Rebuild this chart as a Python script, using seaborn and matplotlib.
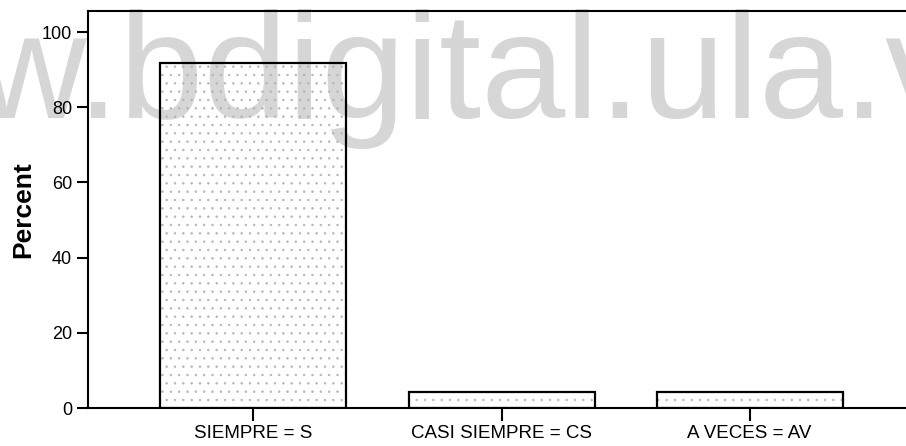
import matplotlib
matplotlib.use("Agg")
import matplotlib.pyplot as plt
import seaborn as sns
import pandas as pd

# Data
categories = ["SIEMPRE = S", "CASI SIEMPRE = CS", "A VECES = AV"]
percents = [91.67, 4.17, 4.17]
yticks = [0, 20, 40, 60, 80, 100]

df = pd.DataFrame({"cat": categories, "pct": percents})

sns.set_style("ticks")
plt.rcParams["font.family"] = ["Liberation Sans", "DejaVu Sans"]
plt.rcParams["hatch.linewidth"] = 0.5
for k in ["text.color", "axes.labelcolor", "xtick.color", "ytick.color"]:
    plt.rcParams[k] = "black"

fig = plt.figure(figsize=(9.06, 4.46), dpi=100)
ax = fig.add_axes([0.0971, 0.0852, 0.913, 0.890])
ax.set_facecolor("none")

# watermark behind the chart
fig.text(-24 / 906, 1 - 118 / 446, "w.bdigital.ula.ve", fontsize=109,
         color="#d6d6d6", ha="left", va="baseline", zorder=-1)

# stippled fill
sns.barplot(data=df, x="cat", y="pct", order=categories, fill=False,
            color="#b4b4b4", hatch="..", linewidth=0, width=0.75,
            errorbar=None, ax=ax)
# black outlines
sns.barplot(data=df, x="cat", y="pct", order=categories, fill=False,
            color="black", linewidth=1.6, width=0.75,
            errorbar=None, ax=ax)

ax.set_xlim(-0.667, 2.667)
ax.set_ylim(0, 105.6)
ax.set_yticks(yticks)
ax.set_xlabel("")
ax.set_ylabel("Percent", fontsize=19, fontweight="bold")
ax.yaxis.set_label_coords(-0.064, 0.5)

ax.tick_params(axis="y", length=8, width=1.5, pad=3.5, labelsize=13)
ax.tick_params(axis="x", length=9, width=1.5, pad=3.5, labelsize=13.5)
for s in ["left", "top", "bottom", "right"]:
    ax.spines[s].set_visible(True)
    ax.spines[s].set_linewidth(1.5)
    ax.spines[s].set_color("black")

fig.savefig("out.png", dpi=100)
